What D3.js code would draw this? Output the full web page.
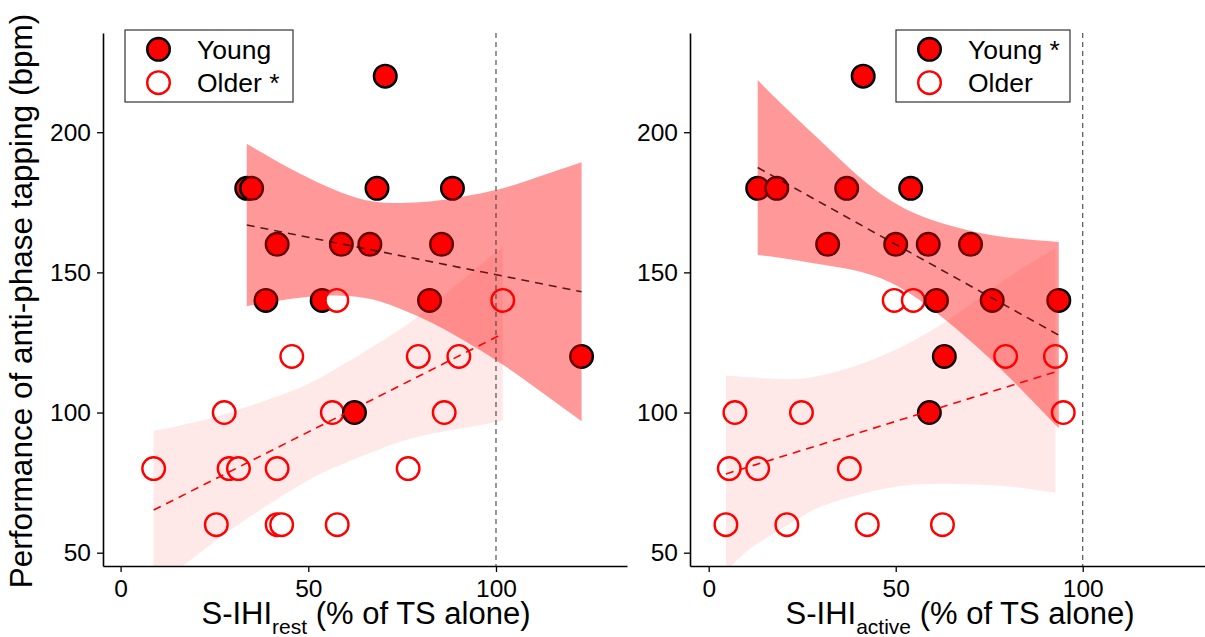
<!DOCTYPE html>
<html><head><meta charset="utf-8">
<script src="https://cdn.jsdelivr.net/npm/d3@7"></script>
<style>
body{margin:0;background:#fff}
svg{display:block}
text{font-family:"Liberation Sans",Arial,Helvetica,sans-serif;fill:#000}
</style>
</head><body>
<svg id="chart" width="1205" height="637"></svg>
<script>
// ---------- data ----------
const yTicks = [50, 100, 150, 200];
const xTicks = [0, 50, 100];
const groups = ["Young", "Older"];
const legendRest = ["Young", "Older *"];
const legendActive = ["Young *", "Older"];

// Panel 1: S-IHI rest
const youngRestX = [70.5, 33.6, 34.9, 68.3, 88.4, 41.7, 58.8, 66.4, 85.5, 38.7, 53.7, 82.3, 122.8, 62.3];
const youngRestY = [220, 180, 180, 180, 180, 160, 160, 160, 160, 140, 140, 140, 120, 100];
const youngRestOnTop = [13];
const olderRestX = [57.6, 101.8, 45.6, 79.3, 90.1, 27.6, 56.4, 86.2, 8.8, 28.9, 31.4, 41.7, 76.6, 25.5, 41.7, 42.9, 57.7];
const olderRestY = [140, 140, 120, 120, 120, 100, 100, 100, 80, 80, 80, 80, 80, 60, 60, 60, 60];

const fitYoungRestX = [33.6, 122.8];
const fitYoungRestY = [166.9, 143.1];
const fitOlderRestX = [8.8, 101.8];
const fitOlderRestY = [65.2, 128.1];

const bandYoungRestX = [33.6, 40.7, 49.6, 58.4, 67.3, 76.2, 85.1, 93.9, 102.8, 111.7, 122.8];
const bandYoungRestHi = [195.9, 190.4, 184.0, 178.7, 175.3, 174.8, 175.7, 177.7, 180.4, 184.3, 189.3];
const bandYoungRestLo = [137.9, 139.6, 141.2, 141.7, 140.3, 136.0, 130.5, 123.7, 116.2, 107.7, 96.9];
const bandOlderRestX = [8.8, 14.0, 22.9, 31.8, 40.7, 49.6, 58.4, 67.3, 76.2, 85.1, 93.9, 101.8];
const bandOlderRestHi = [93.4, 94.8, 97.6, 101.2, 105.3, 110.0, 116.4, 123.6, 131.3, 140.6, 150.5, 159.0];
const bandOlderRestLo = [37.0, 42.6, 51.8, 60.4, 68.3, 75.6, 81.2, 86.0, 90.3, 93.0, 95.1, 97.2];

// Panel 2: S-IHI active
const youngActX = [41.3, 13.1, 18.2, 36.9, 54.0, 31.8, 50.0, 58.7, 70.0, 60.9, 75.8, 93.6, 63.0, 59.0];
const youngActY = [220, 180, 180, 180, 180, 160, 160, 160, 160, 140, 140, 140, 120, 100];
const youngActOnTop = [9];
const olderActX = [49.6, 54.7, 79.4, 92.7, 7.0, 24.8, 94.8, 5.5, 13.1, 37.6, 4.6, 20.9, 42.4, 62.5];
const olderActY = [140, 140, 120, 120, 100, 100, 100, 80, 80, 80, 60, 60, 60, 60];

const fitYoungActX = [13.1, 93.6];
const fitYoungActY = [187.4, 127.6];
const fitOlderActX = [4.6, 92.7];
const fitOlderActY = [78.1, 114.5];

const bandYoungActX = [13.1, 19.5, 28.4, 37.3, 46.2, 55.1, 64.0, 72.9, 81.8, 93.6];
const bandYoungActHi = [218.6, 210.1, 198.8, 187.6, 177.8, 171.1, 166.9, 164.0, 162.2, 160.8];
const bandYoungActLo = [156.2, 155.1, 153.2, 151.2, 147.8, 141.3, 132.3, 122.0, 110.6, 94.4];
const bandOlderActX = [4.6, 10.6, 19.5, 28.4, 37.3, 46.2, 55.1, 64.0, 72.9, 81.8, 92.7];
const bandOlderActHi = [113.1, 112.6, 111.9, 112.8, 115.8, 120.2, 125.9, 133.0, 141.4, 149.7, 158.6];
const bandOlderActLo = [43.0, 51.0, 58.5, 65.5, 69.6, 72.6, 74.3, 74.6, 74.2, 73.4, 71.4];

const refLine = 100;

// ---------- layout ----------
const plotTop = 33, plotBottom = 566;
const yDomain = [45.25, 235.4];
const RED = "#ff0000";

const svg = d3.select("#chart");
const y = d3.scaleLinear().domain(yDomain).range([plotBottom, plotTop]);

const panels = [
  {id: "rest", left: 103, right: 627, xDomain: [-4.69, 134.9],
   yx: youngRestX, yy: youngRestY, yTop: youngRestOnTop, ox: olderRestX, oy: olderRestY,
   fy: [fitYoungRestX, fitYoungRestY], fo: [fitOlderRestX, fitOlderRestY],
   by: [bandYoungRestX, bandYoungRestLo, bandYoungRestHi], bo: [bandOlderRestX, bandOlderRestLo, bandOlderRestHi],
   legend: legendRest, legBox: [125, 30, 168, 72], titleX: 366, sub: "rest"},
  {id: "active", left: 690, right: 1214, xDomain: [-5.0, 135.1],
   yx: youngActX, yy: youngActY, yTop: youngActOnTop, ox: olderActX, oy: olderActY,
   fy: [fitYoungActX, fitYoungActY], fo: [fitOlderActX, fitOlderActY],
   by: [bandYoungActX, bandYoungActLo, bandYoungActHi], bo: [bandOlderActX, bandOlderActLo, bandOlderActHi],
   legend: legendActive, legBox: [896, 30, 174, 72], titleX: 960, sub: "active"}
];

const R = 11.3, SW = 2.4;

panels.forEach(p => {
  const x = d3.scaleLinear().domain(p.xDomain).range([p.left, p.right]);
  const clipId = "clip-" + p.id;
  svg.append("clipPath").attr("id", clipId)
    .append("rect").attr("x", p.left).attr("y", plotTop).attr("width", p.right - p.left).attr("height", plotBottom - plotTop);
  const g = svg.append("g").attr("clip-path", `url(#${clipId})`);

  // points
  const youngIdx = d3.range(p.yx.length);
  const drawYoung = idx => g.append("g").selectAll("circle").data(idx).join("circle")
      .attr("cx", i => x(p.yx[i])).attr("cy", i => y(p.yy[i])).attr("r", R)
      .attr("fill", RED).attr("stroke", "#000").attr("stroke-width", SW);
  drawYoung(youngIdx.filter(i => !p.yTop.includes(i)));
  g.append("g").selectAll("circle").data(d3.range(p.ox.length)).join("circle")
      .attr("cx", i => x(p.ox[i])).attr("cy", i => y(p.oy[i])).attr("r", R)
      .attr("fill", "#fff").attr("stroke", RED).attr("stroke-width", SW);
  drawYoung(p.yTop);

  const area = d3.area().curve(d3.curveNatural)
    .x(d => x(d[0])).y0(d => y(d[1])).y1(d => y(d[2]));
  const line = d3.line().x(d => x(d[0])).y(d => y(d[1]));
  const zipBand = b => b[0].map((v, i) => [v, b[1][i], b[2][i]]);
  const zipFit = f => f[0].map((v, i) => [v, f[1][i]]);

  // Young ribbon + fit
  g.append("path").attr("d", area(zipBand(p.by))).attr("fill", RED).attr("fill-opacity", 0.4);
  g.append("path").attr("d", line(zipFit(p.fy))).attr("fill", "none")
    .attr("stroke", "#3a0000").attr("stroke-opacity", 0.85).attr("stroke-width", 1.6).attr("stroke-dasharray", "8,6");
  // Older ribbon + fit
  g.append("path").attr("d", area(zipBand(p.bo))).attr("fill", RED).attr("fill-opacity", 0.09);
  g.append("path").attr("d", line(zipFit(p.fo))).attr("fill", "none")
    .attr("stroke", RED).attr("stroke-width", 1.6).attr("stroke-dasharray", "8,6");

  // reference line
  g.append("line").attr("x1", x(refLine)).attr("x2", x(refLine)).attr("y1", plotTop).attr("y2", plotBottom)
    .attr("stroke", "#444").attr("stroke-width", 1.1).attr("stroke-dasharray", "5,4");

  // axes
  const ax = svg.append("g").attr("transform", `translate(0,${plotBottom})`)
    .call(d3.axisBottom(x).tickValues(xTicks).tickSize(6).tickSizeOuter(0).tickPadding(8));
  const ay = svg.append("g").attr("transform", `translate(${p.left},0)`)
    .call(d3.axisLeft(y).tickValues(yTicks).tickSize(6).tickSizeOuter(0).tickPadding(6));
  [ax, ay].forEach(a => {
    a.select(".domain").attr("stroke", "#000").attr("stroke-width", 1.6);
    a.selectAll(".tick line").attr("stroke", "#000").attr("stroke-width", 1.3);
    a.selectAll(".tick text").attr("font-size", 24.5).attr("font-family", "Liberation Sans, Arial, sans-serif").attr("fill", "#000");
  });

  // x title
  const t = svg.append("text").attr("x", p.titleX).attr("y", 624).attr("text-anchor", "middle").attr("font-size", 31);
  t.append("tspan").text("S-IHI");
  t.append("tspan").attr("font-size", 21).attr("dy", 10).text(p.sub);
  t.append("tspan").attr("dy", -10).text(" (% of TS alone)");

  // legend
  const [lx, ly, lw, lh] = p.legBox;
  const lg = svg.append("g");
  lg.append("rect").attr("x", lx).attr("y", ly).attr("width", lw).attr("height", lh)
    .attr("fill", "#fff").attr("stroke", "#333").attr("stroke-width", 1.2);
  groups.forEach((gr, i) => {
    const cy = ly + 19.3 + i * 33.4;
    lg.append("circle").attr("cx", lx + 33.5).attr("cy", cy).attr("r", R)
      .attr("fill", gr === "Young" ? RED : "#fff")
      .attr("stroke", gr === "Young" ? "#000" : RED).attr("stroke-width", SW);
    lg.append("text").attr("x", lx + 72).attr("y", cy + 9.4).attr("font-size", 26.5).text(p.legend[i]);
  });
});

// y title
svg.append("text").attr("transform", "translate(32,301) rotate(-90)")
  .attr("text-anchor", "middle").attr("font-size", 31.5)
  .text("Performance of anti-phase tapping (bpm)");
</script>
</body></html>
